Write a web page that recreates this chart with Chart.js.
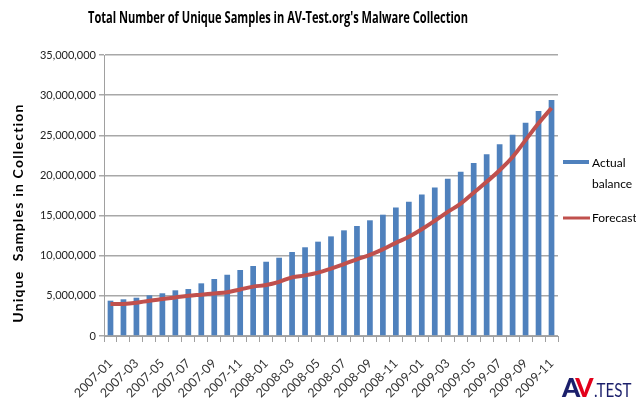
<!DOCTYPE html>
<html>
<head>
<meta charset="utf-8">
<script src="https://cdn.jsdelivr.net/npm/chart.js@4"></script>
<style>
  html, body { margin: 0; padding: 0; background: #fff; }
  #wrap { position: relative; width: 636px; height: 412px; }
  #logo { position: absolute; left: 562px; top: 373px; font-family: Lato, sans-serif; font-weight: 900; font-size: 26px; line-height: 28px; white-space: nowrap; }
  #logo .a { color: #1b1f6b; }
  #logo .v { color: #e3001b; margin-left: -5px; }
  #logo .t { color: #1b1f6b; font-weight: 400; font-size: 19px; display: inline-block; transform: scaleX(0.8); transform-origin: left; }
</style>
</head>
<body>
<div id="wrap">
  <canvas id="c" width="636" height="412"></canvas>
  <div id="logo"><span class="a">A</span><span class="v">V</span><span class="t">.TEST</span></div>
</div>
<script>
const months = [
  '2007-01','2007-02','2007-03','2007-04','2007-05','2007-06','2007-07','2007-08','2007-09','2007-10','2007-11','2007-12',
  '2008-01','2008-02','2008-03','2008-04','2008-05','2008-06','2008-07','2008-08','2008-09','2008-10','2008-11','2008-12',
  '2009-01','2009-02','2009-03','2009-04','2009-05','2009-06','2009-07','2009-08','2009-09','2009-10','2009-11'
];
// actual balance, samples
const actual = [
  4400000, 4570000, 4770000, 5070000, 5320000, 5690000, 5850000, 6560000, 7100000, 7630000, 8220000, 8720000,
  9250000, 9750000, 10460000, 11050000, 11750000, 12410000, 13160000, 13700000, 14410000, 15110000, 16020000, 16730000,
  17640000, 18510000, 19590000, 20460000, 21540000, 22630000, 23870000, 25070000, 26560000, 28020000, 29390000
];
const forecast = [
  4000000, 4000000, 4150000, 4400000, 4600000, 4800000, 5000000, 5150000, 5300000, 5450000, 5800000, 6150000,
  6350000, 6750000, 7300000, 7550000, 7900000, 8400000, 8950000, 9550000, 10100000, 10800000, 11600000, 12350000,
  13300000, 14350000, 15450000, 16500000, 17850000, 19200000, 20650000, 22300000, 24400000, 26500000, 28400000
];
const yTicks = [0, 5000000, 10000000, 15000000, 20000000, 25000000, 30000000, 35000000];

const FONT = 'Lato, "Open Sans", sans-serif';
const BLUE = '#4f81bd';
const RED = '#c0504d';

const decor = {
  id: 'decor',
  afterDraw(chart) {
    const ctx = chart.ctx;
    ctx.save();
    ctx.fillStyle = '#000';
    ctx.textAlign = 'center';
    ctx.textBaseline = 'middle';

    // title, squeezed to the narrow width of the original face
    const title = "Total Number of Unique Samples in AV-Test.org's Malware Collection";
    ctx.save();
    ctx.font = 'bold 16px "Open Sans", sans-serif';
    const k = 380 / ctx.measureText(title).width;
    ctx.translate(278, 18);
    ctx.scale(k, 1);
    ctx.fillText(title, 0, 0);
    ctx.restore();

    // y title
    ctx.save();
    ctx.translate(18, 213);
    ctx.rotate(-Math.PI / 2);
    ctx.font = 'bold 14px ' + FONT;
    ctx.letterSpacing = '1.2px';
    ctx.fillText('Unique  Samples in Collection', 0, 0);
    ctx.restore();

    // legend
    ctx.fillStyle = BLUE;
    ctx.fillRect(563, 160, 26, 4);
    ctx.strokeStyle = RED;
    ctx.lineWidth = 3;
    ctx.beginPath();
    ctx.moveTo(563, 218);
    ctx.lineTo(590, 218);
    ctx.stroke();
    ctx.fillStyle = '#000';
    ctx.font = '12px ' + FONT;
    ctx.textAlign = 'left';
    ctx.fillText('Actual', 592, 163);
    ctx.fillText('balance', 592, 184);
    ctx.fillText('Forecast', 592, 218);
    ctx.restore();
  }
};

new Chart(document.getElementById('c'), {
  data: {
    labels: months,
    datasets: [
      { type: 'line', label: 'Forecast', data: forecast, borderColor: RED, borderWidth: 4,
        pointRadius: 0, tension: 0.4, order: 0 },
      { type: 'bar', label: 'Actual balance', data: actual, backgroundColor: BLUE,
        barPercentage: 0.44, categoryPercentage: 1, order: 1 },
    ]
  },
  options: {
    responsive: false,
    animation: false,
    layout: { padding: { top: 55, right: 78, bottom: 0, left: 0 } },
    plugins: { legend: { display: false }, tooltip: { enabled: false } },
    scales: {
      x: {
        grid: { offset: true, drawOnChartArea: false, drawTicks: true, tickLength: 6, color: '#a0a0a0' },
        border: { color: '#a0a0a0' },
        ticks: {
          autoSkip: false, minRotation: 45, maxRotation: 45, color: '#333',
          font: { family: FONT, size: 12.5 }, padding: 14,
          callback: (v, i) => (i % 2 === 0 ? months[i] : '')
        },
        afterFit: s => { s.height = 76; }
      },
      y: {
        min: 0, max: 35000000,
        afterBuildTicks: s => { s.ticks = yTicks.map(v => ({ value: v })); },
        grid: { color: '#a8a8a8', lineWidth: 1.5, tickLength: 5 },
        border: { color: '#a0a0a0' },
        ticks: {
          color: '#222', font: { family: FONT, size: 11 }, padding: 3,
          callback: v => v.toLocaleString('en-US')
        },
        afterFit: s => { s.width = 104; }
      }
    }
  },
  plugins: [decor]
});
</script>
</body>
</html>
